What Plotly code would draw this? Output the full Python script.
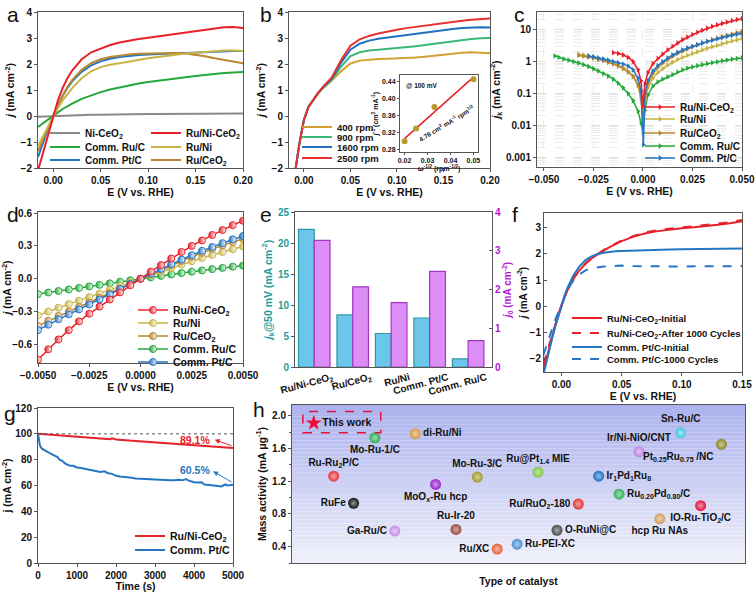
import plotly.graph_objects as go
import numpy as np

W, H = 756, 592
FONT = 'Liberation Sans, Arial, sans-serif'
INK = '#111111'
FRAME = '#555555'

C_RED = '#e8202a'
C_GREEN = '#24a83a'
C_BLUE = '#2576c4'
C_OLIVE = '#c8b446'
C_BROWN = '#bb8630'
C_GRAY = '#8a8a8a'

# ---------------- (a) LSV of catalysts ----------------
a_E = [-0.016, -0.01, -0.005, 0.0, 0.005, 0.01, 0.015, 0.02, 0.03, 0.04, 0.05, 0.06, 0.07,
       0.08, 0.09, 0.10, 0.11, 0.12, 0.13, 0.14, 0.15, 0.16, 0.17, 0.18, 0.19, 0.20]
a_NiCeO2 = [-0.03, -0.02, -0.01, 0.0, 0.01, 0.015, 0.02, 0.03, 0.04, 0.05, 0.05, 0.06, 0.06,
            0.07, 0.07, 0.08, 0.08, 0.08, 0.09, 0.09, 0.09, 0.10, 0.10, 0.10, 0.10, 0.10]
a_RuNiCeO2 = [-2.1, -1.3, -0.65, 0.0, 0.6, 1.08, 1.45, 1.75, 2.18, 2.45, 2.6, 2.73, 2.83,
              2.9, 2.96, 3.01, 3.06, 3.11, 3.16, 3.21, 3.27, 3.32, 3.37, 3.41, 3.42, 3.38]
a_RuC = [-0.42, -0.27, -0.13, 0.0, 0.14, 0.27, 0.38, 0.48, 0.66, 0.8, 0.92, 1.02, 1.1,
         1.18, 1.25, 1.31, 1.36, 1.41, 1.46, 1.5, 1.54, 1.58, 1.62, 1.65, 1.67, 1.69]
a_RuNi = [-1.15, -0.72, -0.36, 0.0, 0.32, 0.6, 0.85, 1.07, 1.45, 1.72, 1.88, 1.97, 2.03,
          2.1, 2.17, 2.22, 2.27, 2.32, 2.36, 2.4, 2.43, 2.46, 2.49, 2.52, 2.52, 2.5]
a_PtC = [-1.58, -0.95, -0.45, 0.0, 0.42, 0.78, 1.08, 1.33, 1.7, 1.95, 2.1, 2.2, 2.27,
         2.32, 2.35, 2.37, 2.39, 2.4, 2.41, 2.42, 2.44, 2.46, 2.48, 2.49, 2.5, 2.5]
a_RuCeO2 = [-1.35, -0.82, -0.4, 0.0, 0.42, 0.8, 1.12, 1.38, 1.78, 2.03, 2.18, 2.27, 2.33,
            2.37, 2.39, 2.4, 2.41, 2.42, 2.42, 2.4, 2.36, 2.3, 2.22, 2.15, 2.08, 2.03]

# ---------------- (b) rotating speeds ----------------
b_E = a_E
b_400 = [-3.2, -2.3, -1.1, -0.15, 0.35, 0.62, 0.85, 1.05, 1.36, 1.72, 2.02, 2.13, 2.17,
         2.19, 2.2, 2.21, 2.22, 2.25, 2.28, 2.32, 2.35, 2.39, 2.43, 2.45, 2.44, 2.41]
b_900 = [-3.2, -2.3, -1.1, -0.15, 0.35, 0.62, 0.86, 1.07, 1.4, 1.9, 2.3, 2.45, 2.52,
         2.55, 2.58, 2.6, 2.63, 2.68, 2.73, 2.78, 2.83, 2.88, 2.92, 2.96, 2.99, 3.0]
b_1600 = [-3.2, -2.3, -1.1, -0.15, 0.36, 0.63, 0.87, 1.08, 1.44, 2.05, 2.55, 2.78, 2.9,
          2.97, 3.02, 3.07, 3.12, 3.17, 3.22, 3.27, 3.31, 3.35, 3.38, 3.4, 3.41, 3.4]
b_2500 = [-3.2, -2.3, -1.1, -0.15, 0.36, 0.64, 0.88, 1.1, 1.48, 2.15, 2.7, 2.95, 3.08,
          3.17, 3.25, 3.32, 3.38, 3.43, 3.48, 3.53, 3.58, 3.62, 3.66, 3.7, 3.73, 3.75]
# inset: Koutecky-Levich
bi_w = [0.02, 0.025, 0.033, 0.05]
bi_jinv = [0.30, 0.33, 0.38, 0.445]

# ---------------- (c) Tafel-type plots ----------------
c_E_RuNiCeO2 = [-0.015, -0.0125, -0.01, -0.0075, -0.005, -0.0025, -0.001, 0.0, 0.001, 0.0025,
                0.005, 0.0075, 0.01, 0.0125, 0.015, 0.0175, 0.02, 0.0225, 0.025, 0.0275, 0.03,
                0.0325, 0.035, 0.0375, 0.04, 0.0425, 0.045, 0.0475, 0.05]
c_j_RuNiCeO2 = [1.9, 1.8, 1.6, 1.35, 1.0, 0.55, 0.25, 0.04, 0.2, 0.45, 0.85, 1.25, 1.7, 2.3,
                3.0, 3.8, 4.8, 5.8, 7.0, 8.2, 9.5, 11.0, 12.5, 14.0, 15.5, 17.0, 19.0, 20.5, 22.0]
c_E_Ru = [-0.0325, -0.03, -0.0275, -0.025, -0.0225, -0.02, -0.0175, -0.015, -0.0125, -0.01,
          -0.0075, -0.005, -0.0025, -0.001, 0.0, 0.001, 0.0025, 0.005, 0.0075, 0.01, 0.0125,
          0.015, 0.0175, 0.02, 0.0225, 0.025, 0.0275, 0.03, 0.0325, 0.035, 0.0375, 0.04,
          0.0425, 0.045, 0.0475, 0.05]
c_j_RuNi = [1.7, 1.6, 1.5, 1.4, 1.28, 1.15, 1.03, 0.9, 0.78, 0.65, 0.5, 0.35, 0.18, 0.07, 0.015,
            0.06, 0.15, 0.3, 0.45, 0.6, 0.78, 0.95, 1.15, 1.35, 1.55, 1.8, 2.0, 2.3, 2.6, 2.9,
            3.2, 3.6, 4.0, 4.4, 4.8, 5.2]
c_j_RuCeO2 = [1.55, 1.47, 1.38, 1.28, 1.17, 1.06, 0.95, 0.84, 0.72, 0.6, 0.47, 0.34, 0.19, 0.08,
              0.015, 0.08, 0.2, 0.42, 0.65, 0.9, 1.15, 1.45, 1.8, 2.1, 2.5, 2.9, 3.3, 3.8, 4.3,
              4.8, 5.4, 6.0, 6.6, 7.2, 7.9, 8.5]
c_E_PtC = [-0.0275, -0.025, -0.0225, -0.02, -0.0175, -0.015, -0.0125, -0.01, -0.0075, -0.005,
           -0.0025, -0.001, 0.0002, 0.001, 0.0025, 0.005, 0.0075, 0.01, 0.0125, 0.015, 0.0175,
           0.02, 0.0225, 0.025, 0.0275, 0.03, 0.0325, 0.035, 0.0375, 0.04, 0.0425, 0.045,
           0.0475, 0.05]
c_j_PtC = [1.5, 1.4, 1.3, 1.2, 1.1, 1.0, 0.92, 0.83, 0.72, 0.55, 0.3, 0.12, 0.0025, 0.1, 0.25,
           0.5, 0.75, 1.0, 1.3, 1.6, 1.95, 2.3, 2.65, 3.0, 3.4, 3.8, 4.2, 4.6, 5.1, 5.6, 6.1,
           6.6, 7.1, 7.6]
c_E_RuC = [-0.0445, -0.0425, -0.04, -0.0375, -0.035, -0.0325, -0.03, -0.0275, -0.025, -0.0225,
           -0.02, -0.0175, -0.015, -0.0125, -0.01, -0.0075, -0.005, -0.0025, -0.001, 0.0,
           0.001, 0.0025, 0.005, 0.0075, 0.01, 0.0125, 0.015, 0.0175, 0.02, 0.0225, 0.025,
           0.0275, 0.03, 0.0325, 0.035, 0.0375, 0.04, 0.0425, 0.045, 0.0475, 0.05]
c_j_RuC = [1.5, 1.35, 1.2, 1.1, 1.0, 0.9, 0.8, 0.7, 0.6, 0.51, 0.42, 0.35, 0.28, 0.21, 0.15,
           0.1, 0.06, 0.028, 0.012, 0.006, 0.03, 0.09, 0.17, 0.23, 0.28, 0.33, 0.39, 0.47,
           0.55, 0.62, 0.68, 0.74, 0.8, 0.86, 0.92, 0.98, 1.05, 1.11, 1.18, 1.24, 1.3]

# ---------------- (d) micro-polarization ----------------
d_E = [-0.005, -0.0045, -0.004, -0.0035, -0.003, -0.0025, -0.002, -0.0015, -0.001, -0.0005, 0.0,
       0.0005, 0.001, 0.0015, 0.002, 0.0025, 0.003, 0.0035, 0.004, 0.0045, 0.005]
d_RuNiCeO2 = [-0.74, -0.645, -0.555, -0.47, -0.39, -0.32, -0.255, -0.19, -0.125, -0.06, 0.0,
              0.065, 0.125, 0.185, 0.245, 0.30, 0.35, 0.40, 0.445, 0.49, 0.53]
d_RuNi = [-0.335, -0.3, -0.265, -0.232, -0.2, -0.168, -0.135, -0.102, -0.068, -0.034, 0.0,
          0.033, 0.066, 0.098, 0.13, 0.16, 0.19, 0.218, 0.245, 0.27, 0.295]
d_RuCeO2 = [-0.43, -0.385, -0.34, -0.3, -0.258, -0.216, -0.175, -0.133, -0.09, -0.045, 0.0,
            0.042, 0.083, 0.123, 0.162, 0.2, 0.237, 0.272, 0.305, 0.335, 0.365]
d_RuC = [-0.14, -0.126, -0.112, -0.098, -0.084, -0.07, -0.056, -0.042, -0.028, -0.014, 0.0,
         0.013, 0.026, 0.039, 0.052, 0.064, 0.076, 0.088, 0.099, 0.11, 0.12]
d_PtC = [-0.47, -0.42, -0.37, -0.325, -0.28, -0.235, -0.19, -0.145, -0.095, -0.048, 0.0,
         0.045, 0.09, 0.135, 0.175, 0.215, 0.255, 0.29, 0.325, 0.36, 0.39]

# ---------------- (e) kinetic / exchange current ----------------
e_cats = ['Ru/Ni-CeO<sub>2</sub>', 'Ru/CeO<sub>2</sub>', 'Ru/Ni', 'Comm. Pt/C', 'Comm. Ru/C']
e_jk = [22.2, 8.4, 5.4, 7.9, 1.3]
e_j0 = [3.27, 2.07, 1.66, 2.47, 0.68]

# ---------------- (f) durability LSV ----------------
f_E = [-0.015, -0.0125, -0.01, -0.0075, -0.005, -0.0025, 0.0, 0.0025, 0.005, 0.0075, 0.01,
       0.015, 0.02, 0.025, 0.03, 0.035, 0.04, 0.045, 0.05, 0.06, 0.07, 0.08, 0.09, 0.10,
       0.11, 0.12, 0.13, 0.14, 0.15]
f_Ru_init = [-2.45, -1.98, -1.55, -1.12, -0.72, -0.33, 0.05, 0.35, 0.62, 0.85, 1.05, 1.37, 1.62,
             1.82, 1.98, 2.12, 2.25, 2.37, 2.48, 2.65, 2.78, 2.86, 2.92, 2.97, 3.01, 3.05,
             3.1, 3.16, 3.24]
f_Ru_after = [-2.2, -1.8, -1.42, -1.05, -0.68, -0.3, 0.05, 0.36, 0.63, 0.86, 1.06, 1.38, 1.63,
              1.83, 2.0, 2.14, 2.27, 2.39, 2.5, 2.68, 2.82, 2.9, 2.95, 3.0, 3.05, 3.1, 3.15,
              3.2, 3.28]
f_Pt_init = [-2.6, -2.1, -1.65, -1.18, -0.74, -0.33, 0.05, 0.4, 0.7, 0.96, 1.18, 1.52, 1.76,
             1.9, 1.99, 2.04, 2.07, 2.09, 2.1, 2.12, 2.13, 2.15, 2.16, 2.17, 2.18, 2.18, 2.19,
             2.2, 2.2]
f_Pt_after = [-1.85, -1.5, -1.15, -0.82, -0.5, -0.22, 0.08, 0.35, 0.6, 0.82, 0.98, 1.22, 1.37,
              1.45, 1.49, 1.51, 1.52, 1.54, 1.55, 1.53, 1.52, 1.51, 1.51, 1.51, 1.52, 1.52,
              1.52, 1.53, 1.53]

# ---------------- (g) chronoamperometry ----------------
g_t_ru = [0, 500, 1000, 1500, 1850, 1900, 1950, 2000, 2500, 3000, 3500, 4000, 4500, 5000]
g_j_ru = [100, 98.9, 97.7, 96.6, 95.9, 96.5, 95.8, 95.6, 94.4, 93.3, 92.2, 91.1, 90.1, 89.1]
g_t_pt = [0, 20, 50, 100, 150, 200, 300, 400, 500, 550, 600, 700, 800, 900, 1000, 1100, 1200,
          1300, 1400, 1500, 1600, 1700, 1750, 1800, 1900, 2000, 2100, 2200, 2300, 2400, 2500,
          2600, 2700, 2800, 2900, 3000, 3100, 3200, 3300, 3400, 3500, 3600, 3700, 3800, 3850,
          3900, 4000, 4100, 4200, 4250, 4300, 4400, 4500, 4600, 4700, 4750, 4800, 4850, 4900,
          5000]
g_j_pt = [100, 95, 91, 88.5, 87.5, 86.5, 85, 83.5, 82, 80, 79.5, 77, 75.5, 75.3, 74, 73.5, 73,
          72.5, 71.5, 71, 70.5, 71, 70.2, 69.5, 69, 67.5, 67, 66.8, 66.2, 66, 65.5, 65.3, 65,
          64.8, 64.5, 64.3, 64, 64.2, 63.8, 64, 64, 64.5, 64, 65, 64, 63.5, 62.5, 62.3, 62.5,
          61, 60.5, 60.3, 60, 59.8, 59.3, 60, 60.8, 60, 60.2, 60.5]
g_ret = ['89.1%', '60.5%']

# ---------------- (h) mass activity comparison ----------------
h_names = ['Mo-Ru-1/C', 'di-Ru/Ni', 'Ru-Ru<sub>2</sub>P/C', 'MoO<sub>x</sub>-Ru hcp', 'Mo-Ru-3/C',
           'RuFe', 'Ga-Ru/C', 'Ru-Ir-20', 'Ru/XC', 'Ru-PEI-XC', 'Ru@Pt<sub>1.4</sub> MIE',
           'Ru/RuO<sub>2</sub>-180', 'O-RuNi@C', 'Ir<sub>1</sub>Pd<sub>1</sub>Ru<sub>8</sub>',
           'Ru<sub>0.20</sub>Pd<sub>0.80</sub>/C', 'Ir/Ni-NiO/CNT', 'Sn-Ru/C',
           'Pt<sub>0.25</sub>Ru<sub>0.75</sub> /NC', 'hcp Ru NAs', 'IO-Ru-TiO<sub>2</sub>/C']
h_x = [18.3, 27.2, 9.2, 31.7, 40.9, 13.6, 22.7, 36.2, 45.3, 49.7, 54.3, 63.2, 58.5, 67.7, 72.2,
       76.6, 85.8, 94.8, 81.2, 90.2]
h_y = [1.73, 1.78, 1.26, 1.16, 1.25, 0.93, 0.59, 0.61, 0.37, 0.43, 1.31, 0.92, 0.60, 1.26, 1.04,
       1.56, 1.79, 1.65, 0.74, 0.90]
h_colors = ['#2fae55', '#d49a45', '#e63838', '#9a22d0', '#a39a2a', '#151515', '#c58ee6',
            '#9a4a3a', '#e85f3c', '#4a8fd2', '#7dc843', '#e23434', '#4a4a4a', '#1b6fc2',
            '#2fb257', '#c283e4', '#3fc6e6', '#8c8a22', '#cfa05e', '#e0123c']
h_pos = ['bottom center', 'middle right', 'top center', 'bottom center', 'top center',
         'middle left', 'middle left', 'top center', 'middle left', 'middle right', 'top center',
         'middle left', 'middle right', 'middle right', 'middle right', 'top center',
         'top center', 'bottom left', 'bottom center', 'bottom center']
h_this_x = [4.8]
h_this_y = [1.91]


# ---------------- helpers ----------------
def xdom(x0, x1):
    return [x0 / W, x1 / W]


def ydom(top, bot):
    return [1 - bot / H, 1 - top / H]


def tfont(size=10, color=INK):
    return dict(family=FONT, size=size, color=color, weight='bold')


def axis(dom, anchor, title='', tsize=10, color=INK, **kw):
    d = dict(domain=dom, anchor=anchor, showline=True, linecolor=FRAME, linewidth=1, mirror=True,
             ticks='outside', ticklen=3, tickwidth=1, tickcolor=FRAME, showgrid=False,
             zeroline=False, tickfont=tfont(tsize, color), automargin=False,
             title=dict(text=title, font=tfont(10.5, color), standoff=3))
    d.update(kw)
    return d


legends = {}


def new_legend(x, y, size=10):
    n = len(legends) + 1
    name = 'legend' if n == 1 else 'legend%d' % n
    legends[name] = dict(x=x / W, y=1 - y / H, xanchor='left', yanchor='middle',
                         bgcolor='rgba(0,0,0,0)', borderwidth=0, font=tfont(size),
                         itemwidth=30, tracegroupgap=0)
    return name


traces = []


def add_line(x, y, xa, ya, color, name=None, leg=None, width=2, dash='solid', mode='lines',
             marker=None):
    kw = dict(x=x, y=y, xaxis=xa, yaxis=ya, mode=mode, hoverinfo='skip',
              line=dict(color=color, width=width, dash=dash), name=name or '',
              showlegend=leg is not None)
    if leg is not None:
        kw['legend'] = leg
    if marker is not None:
        kw['marker'] = marker
    traces.append(go.Scatter(**kw))


E_TITLE = 'E (V vs. RHE)'
J_TITLE = '<i>j</i> (mA cm<sup>-2</sup>)'

# ---- panel a ----
add_line(a_E, a_NiCeO2, 'x', 'y', C_GRAY, 'Ni-CeO<sub>2</sub>', new_legend(45, 133))
add_line(a_E, a_RuC, 'x', 'y', C_GREEN, 'Comm. Ru/C', new_legend(45, 147))
add_line(a_E, a_PtC, 'x', 'y', C_BLUE, 'Comm. Pt/C', new_legend(45, 160))
add_line(a_E, a_RuCeO2, 'x', 'y', C_BROWN, 'Ru/CeO<sub>2</sub>', new_legend(146, 160))
add_line(a_E, a_RuNi, 'x', 'y', C_OLIVE, 'Ru/Ni', new_legend(146, 147))
add_line(a_E, a_RuNiCeO2, 'x', 'y', C_RED, 'Ru/Ni-CeO<sub>2</sub>', new_legend(146, 133))

# ---- panel b ----
add_line(b_E, b_400, 'x2', 'y2', '#d4a030', '400 rpm', new_legend(297, 127, 9.5))
add_line(b_E, b_900, 'x2', 'y2', '#3cb878', '900 rpm', new_legend(297, 137, 9.5))
add_line(b_E, b_1600, 'x2', 'y2', '#1f70c0', '1600 rpm', new_legend(297, 147, 9.5))
add_line(b_E, b_2500, 'x2', 'y2', '#e83030', '2500 rpm', new_legend(297, 158, 9.5))
# inset
kl = np.polyfit(bi_w, bi_jinv, 1)
fit_x = [min(bi_w), max(bi_w)]
add_line(fit_x, list(np.polyval(kl, fit_x)), 'x3', 'y3', '#e8202a', width=1.5)
traces.append(go.Scatter(x=bi_w, y=bi_jinv, xaxis='x3', yaxis='y3', mode='markers',
                         marker=dict(color='#b89a2a', size=6), showlegend=False,
                         hoverinfo='skip'))


# ---- panel c ----
def tri(color):
    return dict(symbol='triangle-right', size=5, color=color, line=dict(width=0))


add_line(c_E_RuC, c_j_RuC, 'x4', 'y4', C_GREEN, 'Comm. Ru/C', new_legend(640, 146, 10),
         width=1.5, mode='lines+markers', marker=tri(C_GREEN))
add_line(c_E_Ru, c_j_RuNi, 'x4', 'y4', C_OLIVE, 'Ru/Ni', new_legend(640, 119, 10),
         width=1.5, mode='lines+markers', marker=tri(C_OLIVE))
add_line(c_E_Ru, c_j_RuCeO2, 'x4', 'y4', C_BROWN, 'Ru/CeO<sub>2</sub>', new_legend(640, 133, 10),
         width=1.5, mode='lines+markers', marker=tri(C_BROWN))
add_line(c_E_PtC, c_j_PtC, 'x4', 'y4', C_BLUE, 'Comm. Pt/C', new_legend(640, 158, 10),
         width=1.5, mode='lines+markers', marker=tri(C_BLUE))
add_line(c_E_RuNiCeO2, c_j_RuNiCeO2, 'x4', 'y4', C_RED, 'Ru/Ni-CeO<sub>2</sub>',
         new_legend(640, 107, 10), width=1.5, mode='lines+markers', marker=tri(C_RED))


# ---- panel d ----
def half(color):
    return dict(symbol='circle', size=7, color=color,
                gradient=dict(type='horizontal', color='white'),
                line=dict(color=color, width=1))


add_line(d_E, d_RuC, 'x5', 'y5', C_GREEN, 'Comm. Ru/C', new_legend(133, 349, 10.5),
         width=1.5, mode='lines+markers', marker=half(C_GREEN))
add_line(d_E, d_RuNi, 'x5', 'y5', C_OLIVE, 'Ru/Ni', new_legend(133, 323, 10.5),
         width=1.5, mode='lines+markers', marker=half(C_OLIVE))
add_line(d_E, d_RuCeO2, 'x5', 'y5', C_BROWN, 'Ru/CeO<sub>2</sub>', new_legend(133, 336, 10.5),
         width=1.5, mode='lines+markers', marker=half(C_BROWN))
add_line(d_E, d_PtC, 'x5', 'y5', C_BLUE, 'Comm. Pt/C', new_legend(133, 362, 10.5),
         width=1.5, mode='lines+markers', marker=half(C_BLUE))
add_line(d_E, d_RuNiCeO2, 'x5', 'y5', C_RED, 'Ru/Ni-CeO<sub>2</sub>', new_legend(133, 310, 10.5),
         width=1.5, mode='lines+markers', marker=half(C_RED))

# ---- panel e ----
TEAL = '#1e9b9b'
MAG = '#b01ad0'
traces.append(go.Bar(x=e_cats, y=e_jk, xaxis='x6', yaxis='y6', offsetgroup='1',
                     marker=dict(color='#6cc6ec', line=dict(color='#2b9a9e', width=1.2)),
                     showlegend=False, hoverinfo='skip'))
traces.append(go.Bar(x=e_cats, y=e_j0, xaxis='x6', yaxis='y7', offsetgroup='2',
                     marker=dict(color='#dd8ef6', line=dict(color='#a534c8', width=1.2)),
                     showlegend=False, hoverinfo='skip'))

# ---- panel f ----
add_line(f_E, f_Ru_init, 'x7', 'y8', C_RED, 'Ru/Ni-CeO<sub>2</sub>-Initial', new_legend(567, 318, 9.5))
add_line(f_E, f_Ru_after, 'x7', 'y8', C_RED, 'Ru/Ni-CeO<sub>2</sub>-After 1000 Cycles',
         new_legend(567, 333, 9.5), dash='dash')
add_line(f_E, f_Pt_init, 'x7', 'y8', C_BLUE, 'Comm. Pt/C-Initial', new_legend(567, 347, 9.5))
add_line(f_E, f_Pt_after, 'x7', 'y8', C_BLUE, 'Comm. Pt/C-1000 Cycles',
         new_legend(567, 359, 9.5), dash='dash')

# ---- panel g ----
add_line(g_t_pt, g_j_pt, 'x8', 'y9', C_BLUE, 'Comm. Pt/C', new_legend(130, 550, 10.5))
add_line(g_t_ru, g_j_ru, 'x8', 'y9', C_RED, 'Ru/Ni-CeO<sub>2</sub>', new_legend(130, 536, 10.5))


# ---- panel h ----
def tint(hexc, f=0.55):
    r, g, b = int(hexc[1:3], 16), int(hexc[3:5], 16), int(hexc[5:7], 16)
    return 'rgb(%d,%d,%d)' % (r + (255 - r) * f, g + (255 - g) * f, b + (255 - b) * f)


traces.append(go.Scatter(x=h_x, y=h_y, xaxis='x9', yaxis='y10', mode='markers+text',
                         text=h_names, textposition=h_pos, textfont=tfont(10),
                         marker=dict(size=11, color=h_colors,
                                     gradient=dict(type='radial', color=[tint(c) for c in h_colors]),
                                     line=dict(width=0)),
                         showlegend=False, hoverinfo='skip', cliponaxis=False))
traces.append(go.Scatter(x=h_this_x, y=h_this_y, xaxis='x9', yaxis='y10', mode='markers+text',
                         text=['This work'], textposition='middle right', textfont=tfont(10.5),
                         marker=dict(symbol='star', size=12, color='#e8103a'),
                         showlegend=False, hoverinfo='skip'))

fig = go.Figure(data=traces)

# ---------------- axes ----------------
lay = dict(width=W, height=H, margin=dict(l=0, r=0, t=0, b=0, autoexpand=False),
           paper_bgcolor='white', plot_bgcolor='rgba(0,0,0,0)',
           font=dict(family=FONT, size=10, color=INK),
           showlegend=True, barmode='group', bargap=0.18, bargroupgap=0.0)

# a
lay['xaxis'] = axis(xdom(38, 243), 'y', E_TITLE, range=[-0.016, 0.20], dtick=0.05, tickformat='.2f')
lay['yaxis'] = axis(ydom(12, 168), 'x', J_TITLE, range=[-2, 4], dtick=1)
# b
lay['xaxis2'] = axis(xdom(289, 490), 'y2', E_TITLE, range=[-0.016, 0.20], dtick=0.05, tickformat='.2f')
lay['yaxis2'] = axis(ydom(12, 168), 'x2', J_TITLE, range=[-2, 4], dtick=1)
# b inset
lay['xaxis3'] = axis(xdom(400, 478), 'y3', '\u03c9<sup>-1/2</sup> (rpm<sup>-1/2</sup>)', tsize=7,
                     range=[0.018, 0.052], tickvals=[0.02, 0.03, 0.04, 0.05], tickformat='.2f',
                     ticklen=2)
lay['xaxis3']['title']['font'] = tfont(7)
lay['xaxis3']['title']['standoff'] = 2
lay['yaxis3'] = axis(ydom(75, 152), 'x3', '<i>j</i><sup>-1</sup> (cm<sup>2</sup> mA<sup>-1</sup>)',
                     tsize=7, range=[0.275, 0.455], tickvals=[0.28, 0.32, 0.36, 0.40, 0.44],
                     tickformat='.2f', ticklen=2)
lay['yaxis3']['title']['font'] = tfont(7)
lay['yaxis3']['title']['standoff'] = 2
# c
c_minor = [m * 10.0 ** e for e in range(-4, 2) for m in range(2, 10)]
lay['xaxis4'] = axis(xdom(537, 742), 'y4', E_TITLE, range=[-0.0535, 0.050],
                     tickvals=[-0.05, -0.025, 0.0, 0.025, 0.05], tickformat='.3f',
                     showgrid=True, gridcolor='#ececec', griddash='dash', gridwidth=1)
lay['yaxis4'] = axis(ydom(12, 167), 'x4', '<i>j</i><sub>k</sub> (mA cm<sup>-2</sup>)', type='log',
                     range=[-3.3, 1.55], tickvals=[0.001, 0.01, 0.1, 1, 10],
                     ticktext=['0.001', '0.01', '0.1', '1', '10'],
                     showgrid=True, gridcolor='#dddddd', griddash='dash', gridwidth=1,
                     minor=dict(tickmode='array', tickvals=c_minor, showgrid=True,
                                gridcolor='#ececec', griddash='dash', gridwidth=1, ticks=''))
# d
lay['xaxis5'] = axis(xdom(38, 243), 'y5', E_TITLE, range=[-0.005, 0.005],
                     tickvals=[-0.005, -0.0025, 0.0, 0.0025, 0.005], tickformat='.4f')
lay['yaxis5'] = axis(ydom(212, 363), 'x5', J_TITLE, range=[-0.77, 0.61],
                     tickvals=[-0.6, -0.3, 0.0, 0.3, 0.6], tickformat='.1f')
# e
lay['xaxis6'] = axis(xdom(295, 492), 'y6', '', type='category', range=[-0.5, 4.62],
                     tickangle=-15, ticks='', ticklabelshift=18)
lay['yaxis6'] = axis(ydom(212, 367), 'x6', '<i>j</i><sub>k</sub>@50 mV (mA cm<sup>-2</sup>)',
                     color=TEAL, range=[0, 25], dtick=5, mirror=False)
lay['yaxis7'] = axis(ydom(212, 367), 'x6', '<i>j</i><sub>0</sub> (mA cm<sup>-2</sup>)',
                     color=MAG, range=[0, 4], dtick=1, mirror=False, side='right',
                     overlaying='y6', ticks='inside', ticklen=3, tickcolor=MAG,
                     ticklabelstandoff=0)
lay['yaxis7']['title']['standoff'] = 0
lay['yaxis7']['title']['font'] = tfont(10, MAG)
# f
lay['xaxis7'] = axis(xdom(544, 742), 'y8', E_TITLE, range=[-0.0145, 0.15], dtick=0.05,
                     tickformat='.2f')
lay['yaxis8'] = axis(ydom(213, 372), 'x7', J_TITLE, range=[-2.5, 3.55], dtick=1,
                     ticks='inside', ticklabelstandoff=0)
lay['yaxis8']['title']['standoff'] = 0
lay['yaxis8']['title']['font'] = tfont(10)
# g
lay['xaxis8'] = axis(xdom(38, 233), 'y9', 'Time (s)', range=[0, 5000], dtick=1000)
lay['yaxis9'] = axis(ydom(408, 563), 'x8', 'j (mA cm<sup>-2</sup>)', range=[0, 120], dtick=20)
# h
lay['xaxis9'] = axis(xdom(292, 745), 'y10', 'Type of catalyst', range=[0, 100],
                     showticklabels=False, ticks='')
lay['xaxis9']['title']['standoff'] = 14
lay['yaxis10'] = axis(ydom(405, 563), 'x9', 'Mass activity (mA \u03bcg<sup>-1</sup>)',
                      range=[0.2, 2.13], tickvals=[0.4, 0.8, 1.2, 1.6, 2.0], tickformat='.1f',
                      minor=dict(dtick=0.2, ticks='outside', ticklen=2, tickcolor=FRAME))

lay.update(legends)

# ---------------- shapes ----------------
shapes = []
top_c = (172, 178, 237)
bot_c = (240, 241, 251)
N = 40
for i in range(N):
    t = (i + 0.5) / N
    col = tuple(int(bot_c[k] + (top_c[k] - bot_c[k]) * t) for k in range(3))
    shapes.append(dict(type='rect', xref='x9 domain', yref='y10 domain', x0=0, x1=1,
                       y0=i / N, y1=(i + 1) / N, fillcolor='rgb(%d,%d,%d)' % col,
                       line=dict(width=0), layer='below'))
# "This work" dashed frame
shapes.append(dict(type='rect', xref='x9', yref='y10', x0=2.4, x1=19.6, y0=1.79, y1=2.05,
                   line=dict(color='#e8103a', width=1.5, dash='dash'), fillcolor='rgba(0,0,0,0)'))
# 100 % reference line in g
shapes.append(dict(type='line', xref='x8 domain', yref='y9', x0=0, x1=1, y0=100, y1=100,
                   line=dict(color='#555555', width=1, dash='dot')))
lay['shapes'] = shapes

# ---------------- annotations ----------------
ann = []
for letter, px, py in [('a', 13, 14), ('b', 266, 14), ('c', 519, 15), ('d', 13, 214),
                       ('e', 266, 214), ('f', 515, 214), ('g', 10, 413), ('h', 259, 409)]:
    ann.append(dict(text=letter, x=px / W, y=1 - py / H, xref='paper', yref='paper',
                    xanchor='center', yanchor='middle', showarrow=False,
                    font=dict(family=FONT, size=21, color=INK)))
ann.append(dict(text='@ 100 mV', xref='x3 domain', yref='y3 domain', x=0.05, y=0.93,
                xanchor='left', yanchor='top', showarrow=False, font=tfont(6.5)))
ann.append(dict(text='%.2f cm<sup>2</sup> mA<sup>-1</sup> rpm<sup>1/2</sup>' % 4.78,
                xref='x3', yref='y3', x=0.0385, y=0.342, textangle=-31, showarrow=False,
                font=tfont(6.5)))
# g retention labels and arrows
ann.append(dict(x=4530, y=95.5, ax=g_t_ru[-1], ay=g_j_ru[-1] + 1.2, xref='x8', yref='y9',
                axref='x8', ayref='y9', text='', showarrow=True, arrowhead=2, arrowsize=1,
                arrowwidth=1, arrowcolor=C_RED))
ann.append(dict(x=4017, y=95, xref='x8', yref='y9', text=g_ret[0], showarrow=False,
                font=tfont(10.5, C_RED)))
ann.append(dict(x=4490, y=71, ax=g_t_pt[-1], ay=g_j_pt[-1] + 1.5, xref='x8', yref='y9',
                axref='x8', ayref='y9', text='', showarrow=True, arrowhead=2, arrowsize=1,
                arrowwidth=1, arrowcolor=C_BLUE))
ann.append(dict(x=4017, y=71.7, xref='x8', yref='y9', text=g_ret[1], showarrow=False,
                font=tfont(10.5, C_BLUE)))
lay['annotations'] = ann

fig.update_layout(**lay)
fig.write_html('out.html', config={'displayModeBar': False},
               post_script="document.body.style.margin='0px';"
                           "document.body.style.padding='0px';"
                           "document.body.style.overflow='hidden';")
